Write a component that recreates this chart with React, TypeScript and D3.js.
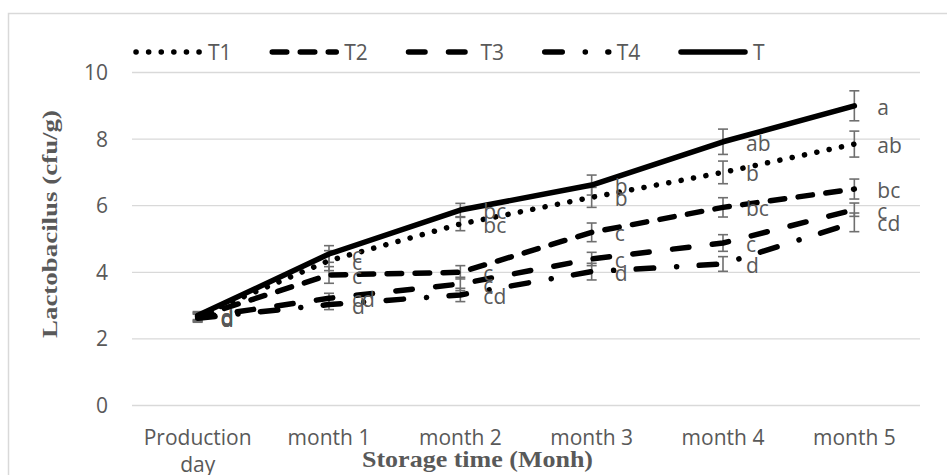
import React from "react";
import * as d3 from "d3";

const categories = ["Production day", "month 1", "month 2", "month 3", "month 4", "month 5"];
const seriesNames = ["T1", "T2", "T3", "T4", "T"];

const t1Values = [2.68, 4.35, 5.45, 6.25, 7.0, 7.85];
const t2Values = [2.66, 3.92, 4.0, 5.2, 5.95, 6.5];
const t3Values = [2.64, 3.22, 3.65, 4.4, 4.88, 5.88];
const t4Values = [2.62, 3.03, 3.32, 4.02, 4.25, 5.5];
const tValues = [2.7, 4.55, 5.87, 6.62, 7.92, 9.0];

const t1Errors = [0.12, 0.3, 0.2, 0.3, 0.34, 0.39];
const t2Errors = [0.12, 0.25, 0.2, 0.28, 0.29, 0.3];
const t3Errors = [0.12, 0.15, 0.2, 0.2, 0.25, 0.2];
const t4Errors = [0.12, 0.15, 0.2, 0.25, 0.22, 0.28];
const tErrors = [0.12, 0.25, 0.2, 0.3, 0.38, 0.45];

const t1Letters = ["d", "c", "bc", "b", "b", "ab"];
const t2Letters = ["d", "c", "c", "c", "bc", "bc"];
const t3Letters = ["d", "cd", "c", "c", "c", "c"];
const t4Letters = ["d", "d", "cd", "d", "d", "cd"];
const tLetters = ["d", "c", "bc", "b", "ab", "a"];

const yTicks = [0, 2, 4, 6, 8, 10];

const W = 947;
const H = 475;
const TEXT = "#595959";
const GRID = "#d9d9d9";
const FONT = "'Open Sans', 'Liberation Sans', sans-serif";
const SERIF = "'Liberation Serif', 'DejaVu Serif', serif";
const LINE_W = 5.5;

// dash patterns of the five treatments (round caps)
const dashes: Record<string, string> = {
  T1: "0.1 12.5",
  T2: "14.5 13.5",
  T3: "16.5 23.5",
  T4: "17.5 23 0.1 22.5",
  T: "",
};

const seriesValues = [t1Values, t2Values, t3Values, t4Values, tValues];
const seriesErrors = [t1Errors, t2Errors, t3Errors, t4Errors, tErrors];
const seriesLetters = [t1Letters, t2Letters, t3Letters, t4Letters, tLetters];

export default function App() {
  const x = d3.scaleBand<string>().domain(categories).range([132, 920]);
  const cx = (c: string) => (x(c) ?? 0) + x.bandwidth() / 2;
  const y = d3.scaleLinear().domain([0, 10]).range([405.5, 72.5]);

  const line = d3
    .line<number>()
    .x((_, i) => cx(categories[i]))
    .y((v) => y(v));

  const wrap = (label: string) => (label.length > 10 ? label.split(" ") : [label]);

  return (
    <svg
      width={W}
      height={H}
      style={{ position: "absolute", left: 0, top: 0, background: "#fff" }}
    >
      <rect x={8.5} y={13.5} width={W} height={H} fill="#fff" stroke={GRID} strokeWidth={1.5} />

      {/* gridlines and value axis labels */}
      {yTicks.map((t) => (
        <g key={t}>
          <line x1={132} x2={920} y1={y(t)} y2={y(t)} stroke={GRID} strokeWidth={1.3} />
          <text
            x={108}
            y={y(t)}
            dy="0.36em"
            textAnchor="end"
            fontFamily={FONT}
            fontSize={21}
            fill={TEXT}
          >
            {t}
          </text>
        </g>
      ))}

      {/* category labels */}
      {categories.map((c) => (
        <text key={c} textAnchor="middle" fontFamily={FONT} fontSize={21} fill={TEXT}>
          {wrap(c).map((w, j) => (
            <tspan key={j} x={cx(c)} y={445 + j * 27}>
              {w}
            </tspan>
          ))}
        </text>
      ))}

      {/* error bars */}
      {seriesValues.map((vals, s) =>
        vals.map((v, i) => {
          const px = cx(categories[i]);
          const e = seriesErrors[s][i];
          return (
            <g key={`e${s}-${i}`} stroke="#6f6f6f" strokeWidth={1.6}>
              <line x1={px} x2={px} y1={y(v - e)} y2={y(v + e)} />
              <line x1={px - 5} x2={px + 5} y1={y(v - e)} y2={y(v - e)} />
              <line x1={px - 5} x2={px + 5} y1={y(v + e)} y2={y(v + e)} />
            </g>
          );
        })
      )}

      {/* series lines */}
      {seriesValues.map((vals, s) => (
        <path
          key={`l${s}`}
          d={line(vals) ?? ""}
          fill="none"
          stroke="#000"
          strokeWidth={LINE_W}
          strokeLinecap="round"
          strokeLinejoin="round"
          strokeDasharray={dashes[seriesNames[s]] || undefined}
        />
      ))}

      {/* significance letters */}
      {seriesValues.map((vals, s) =>
        vals.map((v, i) => (
          <text
            key={`t${s}-${i}`}
            x={cx(categories[i]) + 23}
            y={y(v) + 9}
            fontFamily={FONT}
            fontSize={21}
            fill={TEXT}
          >
            {seriesLetters[s][i]}
          </text>
        ))
      )}

      {/* legend */}
      {seriesNames.map((name, i) => {
        const tx = 208 + i * 136.25;
        return (
          <g key={name}>
            <line
              x1={tx - 72}
              x2={tx - 8}
              y1={52}
              y2={52}
              stroke="#000"
              strokeWidth={LINE_W}
              strokeLinecap="round"
              strokeDasharray={dashes[name] || undefined}
            />
            <text x={tx} y={52} dy="0.36em" fontFamily={FONT} fontSize={21} fill={TEXT}>
              {name}
            </text>
          </g>
        );
      })}

      {/* axis titles */}
      <text
        transform="translate(50,224) rotate(-90)"
        textAnchor="middle"
        dy="0.35em"
        fontFamily={SERIF}
        fontWeight="bold"
        fontSize={21}
        fill={TEXT}
        textLength={228}
        lengthAdjust="spacingAndGlyphs"
      >
        Lactobacilus  (cfu/g)
      </text>
      <text
        x={477.5}
        y={467}
        textAnchor="middle"
        fontFamily={SERIF}
        fontWeight="bold"
        fontSize={22.5}
        fill={TEXT}
        textLength={231}
        lengthAdjust="spacingAndGlyphs"
      >
        Storage time (Monh)
      </text>
    </svg>
  );
}
